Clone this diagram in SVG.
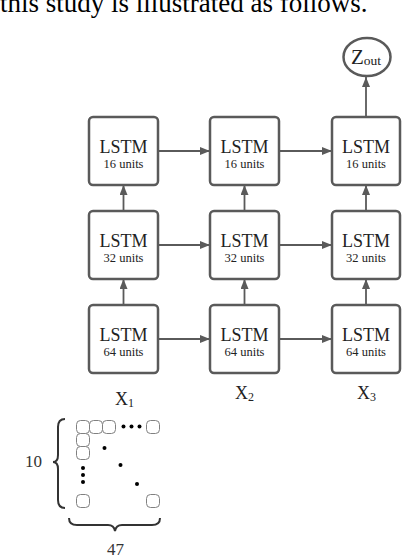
<svg xmlns="http://www.w3.org/2000/svg" width="402" height="560" viewBox="0 0 402 560">
<style>
text{font-family:"Liberation Serif","Times New Roman",serif;fill:#222}
.box{fill:#fff;stroke:#5a5a5a;stroke-width:2.5}
.t1{font-size:18px;text-anchor:middle}
.t2{font-size:12.5px;text-anchor:middle}
.con line{stroke:#5a5a5a;stroke-width:1.8}
.cell{fill:#fff;stroke:#808080;stroke-width:1}
.brace{fill:none;stroke:#333;stroke-width:2}
.lbl{font-size:18px}
.num{font-size:17px;fill:#333}
</style>
<defs>
<marker id="ah" viewBox="0 0 10 8" refX="10" refY="4" markerWidth="10" markerHeight="8" markerUnits="userSpaceOnUse" orient="auto">
<path d="M0,0 L10,4 L0,8 z" fill="#5a5a5a"/>
</marker>
</defs>
<text x="0" y="12" font-size="27" style="fill:#000">this study is illustrated as follows.</text>

<g class="con">
<line x1="158" y1="151" x2="210" y2="151" marker-end="url(#ah)"/>
<line x1="279" y1="151" x2="332" y2="151" marker-end="url(#ah)"/>
<line x1="158" y1="245" x2="210" y2="245" marker-end="url(#ah)"/>
<line x1="279" y1="245" x2="332" y2="245" marker-end="url(#ah)"/>
<line x1="158" y1="339" x2="210" y2="339" marker-end="url(#ah)"/>
<line x1="279" y1="339" x2="332" y2="339" marker-end="url(#ah)"/>
<line x1="123.5" y1="305" x2="123.5" y2="279" marker-end="url(#ah)"/>
<line x1="244.5" y1="305" x2="244.5" y2="279" marker-end="url(#ah)"/>
<line x1="366" y1="305" x2="366" y2="279" marker-end="url(#ah)"/>
<line x1="123.5" y1="211" x2="123.5" y2="185" marker-end="url(#ah)"/>
<line x1="244.5" y1="211" x2="244.5" y2="185" marker-end="url(#ah)"/>
<line x1="366" y1="211" x2="366" y2="185" marker-end="url(#ah)"/>
<line x1="366" y1="117" x2="366" y2="77" marker-end="url(#ah)"/>
</g>

<g id="zout">
<ellipse cx="367" cy="57" rx="23.5" ry="19" fill="#fff" stroke="#5a5a5a" stroke-width="2.5"/>
<text x="351" y="64" font-size="21">Z<tspan font-size="13.5" dy="1">out</tspan></text>
</g>

<g id="l16a"><rect class="box" x="89" y="117" width="69" height="68" rx="4"/><text class="t1" x="123.5" y="153">LSTM</text><text class="t2" x="123.5" y="168">16 units</text></g>
<g id="l16b"><rect class="box" x="210" y="117" width="69" height="68" rx="4"/><text class="t1" x="244.5" y="153">LSTM</text><text class="t2" x="244.5" y="168">16 units</text></g>
<g id="l16c"><rect class="box" x="332" y="117" width="68" height="68" rx="4"/><text class="t1" x="366" y="153">LSTM</text><text class="t2" x="366" y="168">16 units</text></g>

<g id="l32a"><rect class="box" x="89" y="211" width="69" height="68" rx="4"/><text class="t1" x="123.5" y="247">LSTM</text><text class="t2" x="123.5" y="262">32 units</text></g>
<g id="l32b"><rect class="box" x="210" y="211" width="69" height="68" rx="4"/><text class="t1" x="244.5" y="247">LSTM</text><text class="t2" x="244.5" y="262">32 units</text></g>
<g id="l32c"><rect class="box" x="332" y="211" width="68" height="68" rx="4"/><text class="t1" x="366" y="247">LSTM</text><text class="t2" x="366" y="262">32 units</text></g>

<g id="l64a"><rect class="box" x="89" y="305" width="69" height="68" rx="4"/><text class="t1" x="123.5" y="341">LSTM</text><text class="t2" x="123.5" y="356">64 units</text></g>
<g id="l64b"><rect class="box" x="210" y="305" width="69" height="68" rx="4"/><text class="t1" x="244.5" y="341">LSTM</text><text class="t2" x="244.5" y="356">64 units</text></g>
<g id="l64c"><rect class="box" x="332" y="305" width="68" height="68" rx="4"/><text class="t1" x="366" y="341">LSTM</text><text class="t2" x="366" y="356">64 units</text></g>

<g id="x1"><text class="lbl" x="115" y="405">X<tspan font-size="12" dy="2">1</tspan></text></g>
<g id="x2"><text class="lbl" x="235" y="399">X<tspan font-size="12" dy="2">2</tspan></text></g>
<g id="x3"><text class="lbl" x="357" y="399">X<tspan font-size="12" dy="2">3</tspan></text></g>

<g id="matrix">
<rect class="cell" x="76.5" y="420.5" width="13" height="13" rx="4"/>
<rect class="cell" x="89.5" y="420.5" width="13" height="13" rx="4"/>
<rect class="cell" x="102.5" y="420.5" width="13" height="13" rx="4"/>
<rect class="cell" x="146.5" y="420.5" width="13" height="13" rx="4"/>
<rect class="cell" x="76.5" y="433.5" width="13" height="13" rx="4"/>
<rect class="cell" x="76.5" y="446.5" width="13" height="13" rx="4"/>
<rect class="cell" x="76.5" y="494.5" width="13" height="13" rx="4"/>
<rect class="cell" x="146.5" y="494.5" width="13" height="13" rx="4"/>
<g fill="#000">
<circle cx="123.5" cy="426.5" r="2"/><circle cx="131.5" cy="426.5" r="2"/><circle cx="139.5" cy="426.5" r="2"/>
<circle cx="83" cy="468" r="2"/><circle cx="83" cy="475" r="2"/><circle cx="83" cy="482" r="2"/>
<circle cx="104.5" cy="448" r="2"/><circle cx="120.5" cy="465" r="2"/><circle cx="137" cy="484" r="2"/>
</g>
<path class="brace" d="M65,419 Q58,419 58,427 L58,455 Q58,462 53,462 Q58,462 58,469 L58,500 Q58,508 65,508"/>
<path class="brace" d="M69,518 Q69,525 77,525 L108,525 Q114,525 115,531 Q116,525 122,525 L152,525 Q160,525 160,518"/>
<text class="num" x="25" y="467">10</text>
<text class="num" x="107" y="555">47</text>
</g>
</svg>
